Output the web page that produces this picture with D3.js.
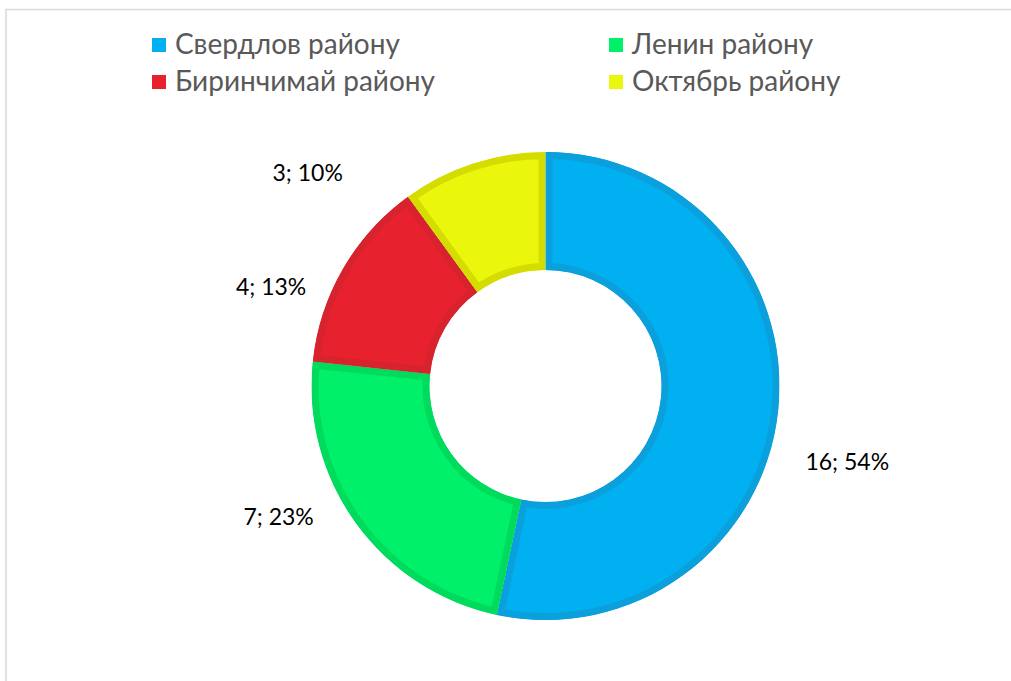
<!DOCTYPE html>
<html lang="ru">
<head>
  <meta charset="UTF-8">
  <title>Районы</title>
  <style>
    body {
      margin: 0;
      padding: 0;
      background-color: #ffffff;
    }

    svg {
      display: block;
    }

    .legend text {
      font-family: 'Lato', 'Noto Sans', sans-serif;
      font-size: 28px;
      fill: #595959;
    }

    .label {
      font-family: 'Lato', 'Noto Sans', sans-serif;
      font-size: 23px;
      fill: #000000;
      text-anchor: middle;
      dominant-baseline: central;
    }
  </style>
</head>
<body>
  <svg width="1011" height="681"></svg>

  <script src="https://d3js.org/d3.v7.min.js"></script>
  <script>
    const districts = ["Свердлов району", "Ленин району", "Биринчимай району", "Октябрь району"];
    const counts = [16, 7, 4, 3];
    const percents = [54, 23, 13, 10];
    const fills = ["#00b0f0", "#00f06a", "#e8212f", "#eaf70c"];
    const edges = ["#0ba0dc", "#00db5e", "#d6232e", "#d4dc00"];
    // where Excel put the data labels: angle in degrees from the top, distance from the centre
    const labelAngles = [104, 244, 290, 312];
    const labelRadii = [311, 297, 292, 320];

    const svg = d3.select("svg");
    const cx = 545.5, cy = 386;
    const outerR = 234, innerR = 116;

    // chart frame, only top and left edges are visible
    svg.append("rect")
      .attr("x", 6)
      .attr("y", 9.5)
      .attr("width", 1100)
      .attr("height", 800)
      .attr("fill", "none")
      .attr("stroke", "#d9d9d9")
      .attr("stroke-width", 1.5);

    const slices = d3.pie().sort(null).value((d) => d)(counts);
    const arc = d3.arc().innerRadius(innerR).outerRadius(outerR);

    const g = svg.append("g").attr("transform", `translate(${cx},${cy})`);
    const defs = svg.append("defs");

    defs.selectAll("clipPath")
      .data(slices)
      .enter()
      .append("clipPath")
      .attr("id", (d, i) => "clip" + i)
      .append("path")
      .attr("d", arc);

    // stroke is clipped to the slice so it sits on the inside, like Excel's border
    g.selectAll("path.slice")
      .data(slices)
      .enter()
      .append("path")
      .attr("class", "slice")
      .attr("d", arc)
      .attr("fill", (d, i) => fills[i])
      .attr("stroke", (d, i) => edges[i])
      .attr("stroke-width", 14)
      .attr("stroke-linejoin", "miter")
      .attr("clip-path", (d, i) => `url(#clip${i})`);

    const labelPoint = (i) => {
      const a = labelAngles[i] * Math.PI / 180;
      return d3.arc().innerRadius(labelRadii[i]).outerRadius(labelRadii[i])
        .centroid({ startAngle: a, endAngle: a });
    };

    g.selectAll("text.label")
      .data(slices)
      .enter()
      .append("text")
      .attr("class", "label")
      .attr("x", (d, i) => labelPoint(i)[0])
      .attr("y", (d, i) => labelPoint(i)[1])
      .text((d, i) => `${counts[i]}; ${percents[i]}%`);

    // legend: two columns, two rows
    const colX = d3.scalePoint().domain([0, 1]).range([152, 609]);
    const rowY = d3.scalePoint().domain([0, 1]).range([45, 82]);

    const item = svg.append("g")
      .attr("class", "legend")
      .selectAll("g")
      .data(districts)
      .enter()
      .append("g")
      .attr("transform", (d, i) => `translate(${colX(i % 2)},${rowY(Math.floor(i / 2))})`);

    item.append("rect")
      .attr("x", 0)
      .attr("y", -7)
      .attr("width", 14)
      .attr("height", 14)
      .attr("fill", (d, i) => fills[i]);

    item.append("text")
      .attr("x", 23)
      .attr("y", 9)
      .text((d) => d);
  </script>
</body>
</html>
